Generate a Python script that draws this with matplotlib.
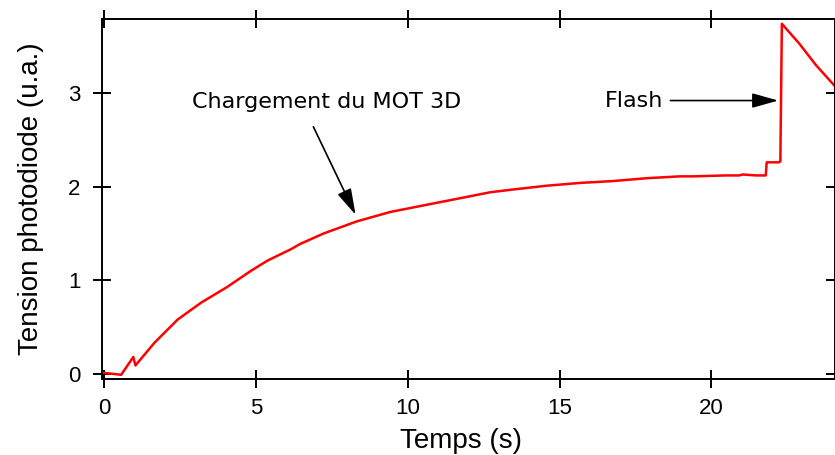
import matplotlib
matplotlib.use("Agg")
from matplotlib import pyplot

# photodiode trace (time in s, voltage in a.u.)
temps = [0.0, 0.3, 0.56, 0.96, 1.03, 1.65, 2.42, 3.19, 4.06, 4.83, 5.38, 6.14,
         6.47, 7.23, 8.33, 9.43, 10.52, 11.62, 12.71, 13.47, 14.57, 15.67,
         16.76, 17.86, 18.95, 19.39, 20.48, 20.92, 21.03, 21.47, 21.79, 21.82,
         22.23, 22.27, 22.32, 22.89, 23.44, 24.05]
tension = [0.01, 0.0, -0.01, 0.18, 0.09, 0.33, 0.58, 0.76, 0.93, 1.10, 1.21,
           1.33, 1.39, 1.50, 1.63, 1.73, 1.80, 1.87, 1.94, 1.97, 2.01, 2.04,
           2.06, 2.09, 2.11, 2.11, 2.12, 2.12, 2.13, 2.12, 2.12, 2.26, 2.26,
           2.27, 3.74, 3.53, 3.30, 3.08]

x_ticks = [0, 5, 10, 15, 20]
y_ticks = [0, 1, 2, 3]

figure = pyplot.figure(figsize=(8.35, 4.55), dpi=100)
ax = figure.add_axes([0.1222, 0.167, 0.8778, 0.791])
ax.plot(temps, tension, color="red", lw=1.8)

ax.set_xlim(-0.07, 24.07)
ax.set_ylim(-0.055, 3.79)
ax.set_xticks(x_ticks)
ax.set_yticks(y_ticks)

for s in ax.spines.values():
    s.set_linewidth(1.4)
ax.tick_params(direction="inout", length=13, width=1.4,
               top=True, right=True, labelsize=16)
ax.tick_params(axis="x", pad=7)
ax.tick_params(axis="y", pad=9)
for lab in ax.get_xticklabels() + ax.get_yticklabels():
    lab.set_family("Liberation Sans")

ax.set_xlabel("Temps (s)", family="Liberation Sans", fontsize=20)
ax.xaxis.set_label_coords(0.49, -0.135)
ax.set_ylabel("Tension photodiode (u.a.)", family="Liberation Sans",
              fontsize=20, labelpad=17)

arrow = dict(arrowstyle="-|>,head_length=1.6,head_width=0.45",
             color="black", lw=1.2, shrinkA=0, shrinkB=0)
ax.annotate("", xy=(8.28, 1.70), xytext=(6.89, 2.64), arrowprops=arrow)
ax.text(7.32, 2.90, "Chargement du MOT 3D", ha="center", va="center",
        fontsize=16, family="DejaVu Sans")
ax.annotate("", xy=(22.2, 2.92), xytext=(18.65, 2.92), arrowprops=arrow)
ax.text(17.44, 2.92, "Flash", ha="center", va="center",
        fontsize=16, family="DejaVu Sans")

pyplot.savefig("out.png", dpi=100)
